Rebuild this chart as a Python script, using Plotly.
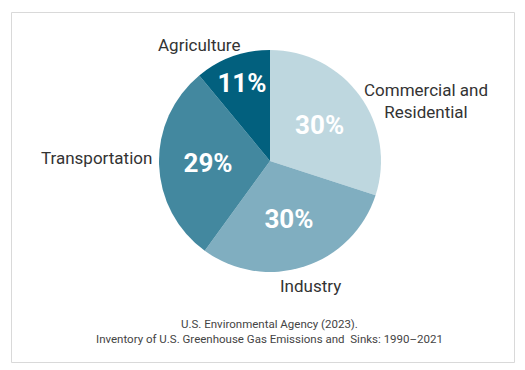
import plotly.graph_objects as go

sectors = ["Commercial and<br>Residential", "Industry", "Transportation", "Agriculture"]
shares = [30, 30, 29, 11]
colors = ["#bed7df", "#80aec0", "#43889f", "#02607e"]
source_lines = ["U.S. Environmental Agency (2023).",
                "Inventory of U.S. Greenhouse Gas Emissions and  Sinks: 1990–2021"]

W, H = 525, 370
OFF = 8  # page body margin

def px(x):
    return (x - OFF) / W

def py(y):
    return 1 - (y - OFF) / H

fig = go.Figure()
fig.add_trace(go.Pie(
    labels=sectors,
    values=shares,
    sort=False,
    direction="clockwise",
    rotation=0,
    marker=dict(colors=colors, line=dict(width=0)),
    texttemplate="%{percent:.0%}",
    textposition="inside",
    insidetextorientation="horizontal",
    textfont=dict(family="Roboto", size=26, color="white", weight="bold"),
    domain=dict(x=[px(159), px(381)], y=[py(272), py(50)]),
    showlegend=False,
    hoverinfo="label+percent",
))

# outside category labels
label_pos = {
    "Agriculture": (199, 45),
    "Commercial and<br>Residential": (426, 101),
    "Transportation": (96, 158),
    "Industry": (310, 286),
}
annotations = []
for s in sectors:
    x, y = label_pos[s]
    annotations.append(dict(
        x=px(x), y=py(y), xref="paper", yref="paper", text=s, showarrow=False,
        xanchor="center", yanchor="middle", align="center",
        font=dict(family="Roboto", size=17, color="#333333"),
    ))

annotations.append(dict(
    x=px(269), y=py(331), xref="paper", yref="paper",
    text="<br>".join(source_lines), showarrow=False,
    xanchor="center", yanchor="middle", align="center",
    font=dict(family="Roboto", size=11.5, color="#444444"),
))

fig.update_layout(
    width=W, height=H,
    margin=dict(l=0, r=0, t=0, b=0),
    paper_bgcolor="white",
    plot_bgcolor="white",
    annotations=annotations,
    uniformtext=dict(minsize=26, mode="show"),
    shapes=[dict(type="rect", xref="paper", yref="paper",
                 x0=px(11.5), x1=px(514.5), y0=py(362.5), y1=py(12.5),
                 line=dict(color="#d9d9d9", width=1), layer="below")],
)

fig.write_html("out.html")
